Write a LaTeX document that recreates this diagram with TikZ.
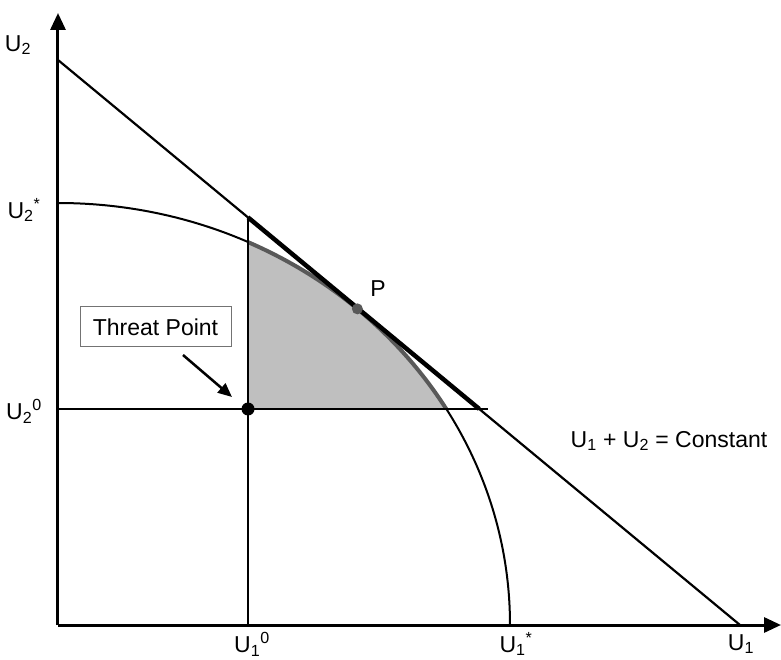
\documentclass[tikz,border=0pt]{standalone}
\usepackage{fontspec}
\setmainfont{Liberation Sans}
\usetikzlibrary{arrows.meta}

\begin{document}
\begin{tikzpicture}[x=1pt, y=1pt, font=\fontsize{23}{27}\selectfont,
  axis/.style={line width=3pt, -{Triangle[length=17pt,width=15pt]}},
  thin/.style={line width=2pt}]
\useasboundingbox (-58,-34) rectangle (723,625);
\pgfmathsetmacro{\ta}{acos(190/452)}
\pgfmathsetmacro{\tb}{asin(216/422)}
\pgfmathsetmacro{\tq}{acos(299.4/452)}
\coordinate (O) at (0,0);
\coordinate (A) at (0,565);
\coordinate (B) at (682,0);
\coordinate (T) at (190,216);
\coordinate (C) at (190,407.6);
\coordinate (D) at (421.3,216);
\coordinate (P) at ({452*cos(\tq)},{422*sin(\tq)});
% shaded region
\fill[black!25] (T) -- ({452*cos(\ta)},{422*sin(\ta)}) arc[start angle=\ta, end angle=\tb, x radius=452, y radius=422] -- cycle;
\draw[axis] (O) -- (0,612);
\draw[axis] (O) -- (723,0);
\draw[line width=2.2pt] (A) -- (B);
\draw[thin] (0,422) arc[start angle=90, end angle=0, x radius=452, y radius=422];
\draw[line width=4pt, black!65] ({452*cos(\ta)},{422*sin(\ta)}) arc[start angle=\ta, end angle=\tb, x radius=452, y radius=422];
\draw[thin] (190,0) -- (C);
\draw[thin] (0,216) -- (430,216);
\draw[line width=4.5pt] (C) -- (D);
\fill (T) circle (6.5);
\fill[black!65] (P) circle (5.5);
% labels
\node (u2) at (-40,580) {U\textsubscript{2}};
\node (u2s) at (-34,415) {U\textsubscript{2}\textsuperscript{*}};
\node (u20) at (-34,214) {U\textsubscript{2}\textsuperscript{0}};
\node (u10) at (194,-19) {U\textsubscript{1}\textsuperscript{0}};
\node (u1s) at (458,-19) {U\textsubscript{1}\textsuperscript{*}};
\node (u1) at (683,-19) {U\textsubscript{1}};
\node (sum) at (611,184) {U\textsubscript{1} + U\textsubscript{2} = Constant};
\node (plab) at (320,336) {P};
\node[draw=black!55, line width=1pt, minimum width=151pt, minimum height=40pt, inner sep=0pt] (tp) at (97.5,298) {Threat Point};
\draw[line width=2.5pt, -{Triangle[length=14pt,width=12pt]}] (125,270) -- (174,228);
\end{tikzpicture}
\end{document}
